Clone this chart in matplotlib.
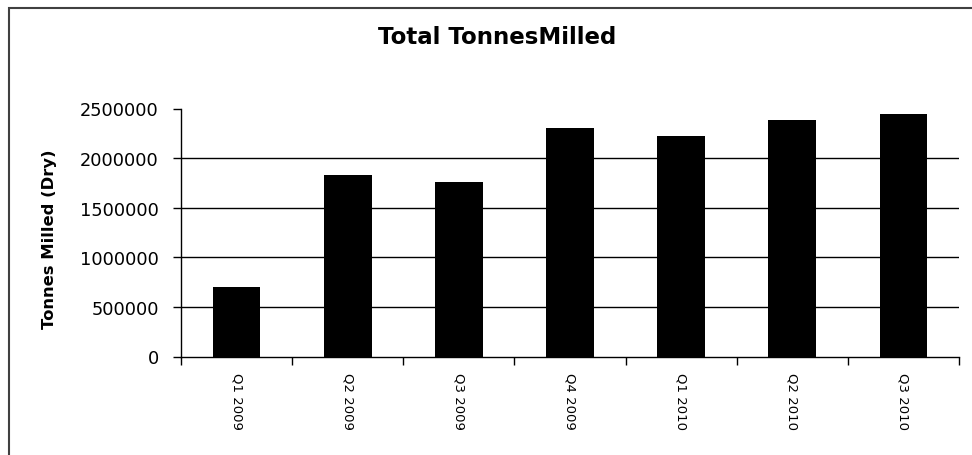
import matplotlib
matplotlib.use("Agg")
import matplotlib.pyplot as plt
from matplotlib.patches import Rectangle
import numpy as np

categories = ["Q1 2009", "Q2 2009", "Q3 2009", "Q4 2009", "Q1 2010", "Q2 2010", "Q3 2010"]
tonnes_milled = [704000, 1833000, 1756000, 2300000, 2220000, 2384000, 2442000]
y_ticks = [0, 500000, 1000000, 1500000, 2000000, 2500000]

W, H = 972, 456
fig = plt.figure(figsize=(W / 100, H / 100), dpi=100)
fig.patch.set_facecolor("white")

# outer chart frame (cropped on right and bottom)
fig.patches.append(Rectangle((9 / W, -0.2), 1.2, 1.2 - 9 / H, transform=fig.transFigure,
                             fill=False, edgecolor="#404040", linewidth=1.5))

ax = fig.add_axes([181 / W, (H - 357.5) / H, (959 - 181) / W, (357.5 - 109.5) / H])
x = np.arange(len(categories))
ax.bar(x, tonnes_milled, width=0.43, color="black", zorder=3)

ax.set_xlim(-0.5, len(categories) - 0.5)
ax.set_ylim(y_ticks[0], y_ticks[-1])

for v in y_ticks[1:-1]:
    ax.axhline(v, color="black", linewidth=1.0, zorder=1)

ax.spines["top"].set_visible(False)
ax.spines["right"].set_visible(False)
ax.spines["left"].set_linewidth(1.0)
ax.spines["bottom"].set_linewidth(1.0)

ax.set_yticks(y_ticks)
ax.set_yticklabels([str(v) for v in y_ticks], fontsize=12.8, family="DejaVu Sans")
ax.tick_params(axis="y", direction="out", length=6, width=1, pad=10)

ax.set_xticks(x)
ax.set_xticklabels(categories, rotation=270, fontsize=9.5, family="DejaVu Sans")
ax.tick_params(axis="x", which="major", length=0, pad=11)
ax.set_xticks(np.arange(-0.5, len(categories), 1.0), minor=True)
ax.tick_params(axis="x", which="minor", direction="out", length=6, width=1)

ax.set_ylabel("Tonnes Milled (Dry)", fontsize=11.8, fontweight="bold", family="DejaVu Sans")
ax.yaxis.set_label_coords((57 - 181) / (959 - 181), 0.476)

fig.text(497 / W, 1 - 38 / H, "Total TonnesMilled", ha="center", va="center",
         fontsize=16.5, fontweight="bold", family="DejaVu Sans")

fig.savefig("out.png", dpi=100, facecolor="white")
